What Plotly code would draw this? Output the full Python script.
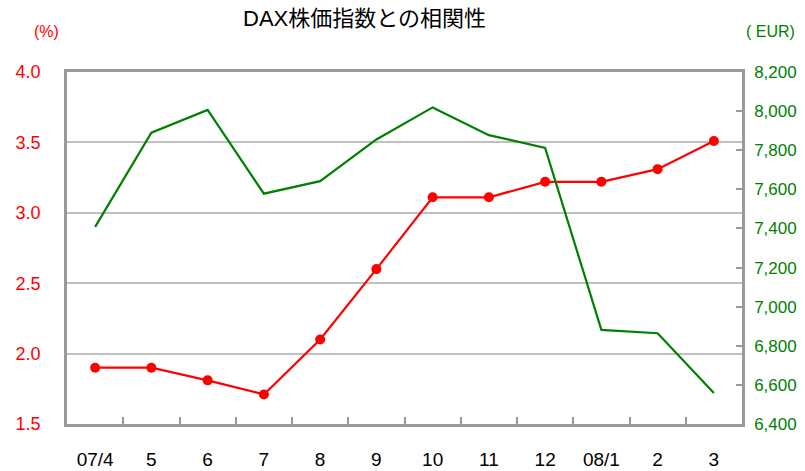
import plotly.graph_objects as go

categories = ["07/4", "5", "6", "7", "8", "9", "10", "11", "12", "08/1", "2", "3"]
rate_pct = [1.90, 1.90, 1.81, 1.71, 2.10, 2.60, 3.11, 3.11, 3.22, 3.22, 3.31, 3.51]
dax_eur = [7408, 7890, 8006, 7578, 7642, 7855, 8019, 7877, 7812, 6881, 6864, 6558]
left_ticks = [1.5, 2.0, 2.5, 3.0, 3.5, 4.0]
right_ticks = [6400, 6600, 6800, 7000, 7200, 7400, 7600, 7800, 8000, 8200]

FONT = "Arial, 'Liberation Sans', 'Noto Sans CJK JP', sans-serif"
AXIS = "#999999"
GRID = "#c0c0c0"

W, H = 805, 471
L, R, T, B = 67, 63, 72, 47
PW, PH = W - L - R, H - T - B

def px(x):
    return (x - L) / PW

def py(y):
    return (H - B - y) / PH

fig = go.Figure()
fig.add_trace(go.Scatter(x=categories, y=dax_eur, mode="lines", yaxis="y2",
                         line=dict(color="#008000", width=2.2), showlegend=False))
fig.add_trace(go.Scatter(x=categories, y=rate_pct, mode="lines+markers", yaxis="y",
                         line=dict(color="#ff0000", width=2.2),
                         marker=dict(color="#ff0000", size=10), showlegend=False))

fig.update_layout(
    width=W, height=H,
    margin=dict(l=L, r=R, t=T, b=B, autoexpand=False),
    paper_bgcolor="white", plot_bgcolor="white",
    font=dict(family=FONT, size=18),
    xaxis=dict(type="category", range=[-0.5, 11.5], showline=True, linecolor=AXIS,
               linewidth=2.5, mirror=True, ticks="inside", ticklen=7, tickwidth=2,
               tickcolor=AXIS, tickson="boundaries", showgrid=False, automargin=False,
               tickfont=dict(color="#000000", size=19), ticklabelstandoff=16),
    yaxis=dict(range=[1.5, 4.0], tickvals=left_ticks,
               ticktext=[f"{v:.1f}" for v in left_ticks],
               showline=True, linecolor=AXIS, linewidth=2.5, automargin=False,
               showgrid=True, gridcolor=GRID, gridwidth=2, zeroline=False,
               ticks="", tickfont=dict(color="#ff0000", size=18), ticklabelstandoff=20),
    yaxis2=dict(range=[6400, 8200], tickvals=right_ticks,
                ticktext=[f"{v:,}" for v in right_ticks],
                overlaying="y", side="right", showline=True, linecolor=AXIS,
                linewidth=2.5, showgrid=False, zeroline=False, automargin=False,
                ticks="inside", ticklen=6, tickwidth=1.5, tickcolor=AXIS,
                tickfont=dict(color="#008000", size=17), ticklabelstandoff=6),
    annotations=[
        dict(text="DAX株価指数との相関性", x=px(364), y=py(19), xref="paper", yref="paper",
             xanchor="center", yanchor="middle", showarrow=False,
             font=dict(color="#000000", size=22, family=FONT)),
        dict(text="(%)", x=px(46.5), y=py(31), xref="paper", yref="paper",
             xanchor="center", yanchor="middle", showarrow=False,
             font=dict(color="#ff0000", size=16, family=FONT)),
        dict(text="( EUR)", x=px(770), y=py(31), xref="paper", yref="paper",
             xanchor="center", yanchor="middle", showarrow=False,
             font=dict(color="#008000", size=16, family=FONT)),
    ],
)

fig.write_html("out.html", config={"displayModeBar": False},
               post_script="document.body.style.margin='0';document.body.style.overflow='hidden';")
